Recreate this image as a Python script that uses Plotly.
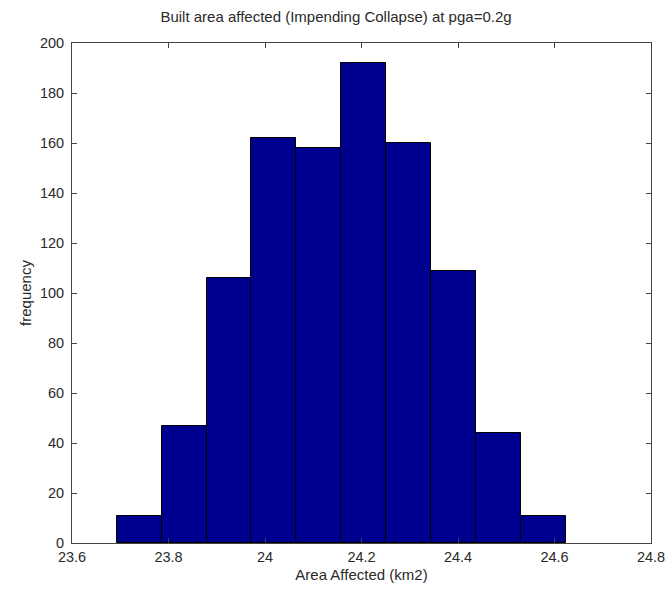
import plotly.graph_objects as go

# Histogram of simulated built area affected (km2)
bin_start = 23.6926
bin_width = 0.0931
counts = [11, 47, 106, 162, 158, 192, 160, 109, 44, 11]
x_ticks = [23.6, 23.8, 24.0, 24.2, 24.4, 24.6, 24.8]
x_tick_text = ["23.6", "23.8", "24", "24.2", "24.4", "24.6", "24.8"]
y_ticks = list(range(0, 201, 20))

centers = [bin_start + bin_width * (i + 0.5) for i in range(len(counts))]

fig = go.Figure(
    go.Bar(
        x=centers,
        y=counts,
        width=[bin_width] * len(counts),
        marker=dict(color="#00008F", line=dict(color="#000000", width=1)),
        hoverinfo="x+y",
    )
)

font_family = "Liberation Sans, Arial, sans-serif"
text_color = "#2a2a2a"

axis_common = dict(
    showline=True,
    linecolor="#444444",
    linewidth=1,
    mirror="ticks",
    ticks="inside",
    ticklen=5,
    tickcolor="#444444",
    showgrid=False,
    zeroline=False,
    automargin=False,
    tickfont=dict(family=font_family, size=14.5, color=text_color),
)

fig.update_layout(
    width=666,
    height=593,
    margin=dict(l=72, r=15, t=43, b=50),
    paper_bgcolor="white",
    plot_bgcolor="white",
    showlegend=False,
    bargap=0,
    title=dict(
        text="Built area affected (Impending Collapse) at pga=0.2g",
        x=336 / 666,
        xanchor="center",
        y=1 - 17 / 593,
        yanchor="middle",
        font=dict(family=font_family, size=15, color=text_color),
    ),
    xaxis=dict(
        range=[23.6, 24.8],
        tickvals=x_ticks,
        ticktext=x_tick_text,
        ticklabelstandoff=1,
        title=dict(text="Area Affected (km2)", standoff=5,
                   font=dict(family=font_family, size=15, color=text_color)),
        **axis_common,
    ),
    yaxis=dict(
        range=[0, 200],
        tickvals=y_ticks,
        ticklabelstandoff=4,
        title=dict(text="frequency", standoff=4,
                   font=dict(family=font_family, size=15, color=text_color)),
        **axis_common,
    ),
)

fig.write_html("out.html")
